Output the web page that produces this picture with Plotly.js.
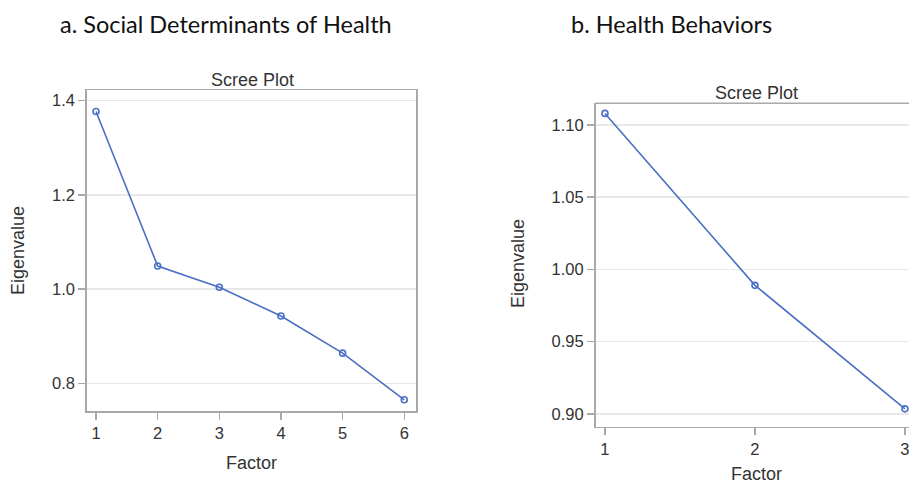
<!DOCTYPE html>
<html>
<head>
<meta charset="utf-8">
<script src="https://cdn.plot.ly/plotly-3.0.1.min.js"></script>
<style>html,body{margin:0;padding:0;background:#fff;}#chart{width:909px;height:484px;}</style>
</head>
<body>
<div id="chart"></div>
<script>
// Data
const sdohFactors = [1, 2, 3, 4, 5, 6];
const sdohEigen = [1.377, 1.049, 1.004, 0.943, 0.864, 0.765];
const hbFactors = [1, 2, 3];
const hbEigen = [1.108, 0.989, 0.9035];
const sdohYTicks = [0.8, 1.0, 1.2, 1.4];
const sdohYTickText = ['0.8', '1.0', '1.2', '1.4'];
const hbYTicks = [0.90, 0.95, 1.00, 1.05, 1.10];
const hbYTickText = ['0.90', '0.95', '1.00', '1.05', '1.10'];
const panelTitles = ['a. Social Determinants of Health', 'b. Health Behaviors'];
const plotTitle = 'Scree Plot';
const xTitle = 'Factor';
const yTitle = 'Eigenvalue';

const W = 909, H = 484;
const px = x => x / W;
const py = y => 1 - y / H;

const lineColor = '#4a6fc4';
const boxColor = '#a9a9a9';
const gridColor = '#e8e8e8';
const textColor = '#333333';
const sasFont = {family: 'Liberation Sans, Arial, sans-serif', size: 16.5, color: textColor};

function trace(x, y, xa, ya) {
  return {
    x: x, y: y, xaxis: xa, yaxis: ya, type: 'scatter', mode: 'lines+markers',
    line: {color: lineColor, width: 1.6},
    marker: {symbol: 'circle-open', size: 6, color: lineColor, line: {width: 1.6, color: lineColor}},
    hoverinfo: 'x+y', showlegend: false, cliponaxis: false
  };
}

function xAxis(domain, range, ticks, mirror) {
  return {
    domain: domain, range: range, tickvals: ticks, ticktext: ticks.map(String),
    showgrid: false, zeroline: false, showline: true, linecolor: boxColor, linewidth: 1.5,
    mirror: mirror, ticks: 'outside', ticklen: 7, tickwidth: 1.5, tickcolor: boxColor,
    tickfont: sasFont, fixedrange: true, ticklabeloverflow: 'allow'
  };
}
function yAxis(domain, range, ticks, text, mirror, anchor) {
  return {
    domain: domain, range: range, tickvals: ticks, ticktext: text, anchor: anchor,
    showgrid: true, gridcolor: gridColor, gridwidth: 1.5, zeroline: false,
    showline: true, linecolor: boxColor, linewidth: 1.5, mirror: mirror,
    ticks: 'outside', ticklen: 7, tickwidth: 1.5, tickcolor: boxColor,
    tickfont: sasFont, fixedrange: true
  };
}

const data = [
  trace(sdohFactors, sdohEigen, 'x', 'y'),
  trace(hbFactors, hbEigen, 'x2', 'y2')
];

const titleFont = {family: 'Lato, Carlito, Calibri, sans-serif', size: 23.5, color: '#111111'};
const labFont = {family: 'Liberation Sans, Arial, sans-serif', size: 18, color: textColor};

function ann(text, x, y, font, rot) {
  return {text: text, x: px(x), y: py(y), xref: 'paper', yref: 'paper', showarrow: false,
          xanchor: 'center', yanchor: 'middle', font: font, textangle: rot || 0};
}

const layout = {
  width: W, height: H, margin: {l: 0, r: 0, t: 0, b: 0},
  paper_bgcolor: '#ffffff', plot_bgcolor: '#ffffff',
  xaxis: Object.assign(xAxis([px(86.7), px(416)], [0.849, 6.19], sdohFactors, true), {anchor: 'y'}),
  yaxis: yAxis([py(411), py(90)], [0.7412, 1.4227], sdohYTicks, sdohYTickText, true, 'x'),
  xaxis2: Object.assign(xAxis([px(595.5), 1], [0.937, 3.027], hbFactors, false), {anchor: 'y2'}),
  yaxis2: yAxis([py(426.5), py(103.3)], [0.8913, 1.115], hbYTicks, hbYTickText, false, 'x2'),
  annotations: [
    ann(panelTitles[0], 226, 24, titleFont),
    ann(panelTitles[1], 671, 24, titleFont),
    ann(plotTitle, 252.5, 80, labFont),
    ann(plotTitle, 756, 93, labFont),
    ann(xTitle, 251, 463, labFont),
    ann(xTitle, 756, 473.5, labFont),
    ann(yTitle, 18, 251, labFont, -90),
    ann(yTitle, 518, 264, labFont, -90)
  ],
  shapes: [
    {type: 'line', xref: 'paper', yref: 'paper', x0: px(595.5), x1: 1, y0: py(103.3), y1: py(103.3),
     line: {color: boxColor, width: 1.5}}
  ]
};

Plotly.newPlot('chart', data, layout, {displayModeBar: false, staticPlot: true});
</script>
</body>
</html>
